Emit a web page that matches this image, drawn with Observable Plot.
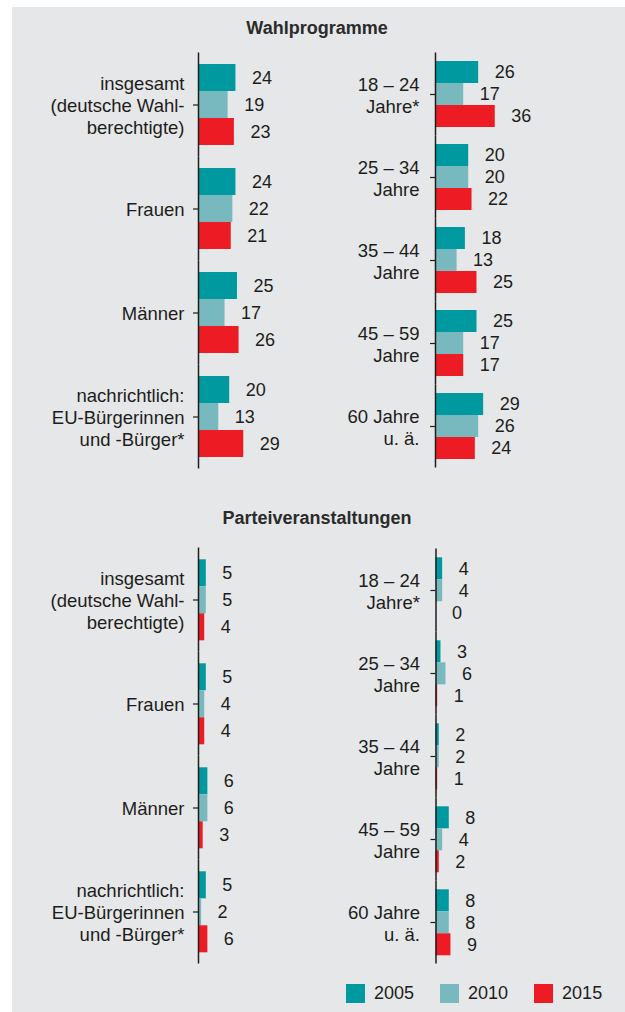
<!DOCTYPE html>
<html>
<head>
<meta charset="utf-8">
<script src="https://cdn.jsdelivr.net/npm/d3@7"></script>
<script src="https://cdn.jsdelivr.net/npm/@observablehq/plot@0.6"></script>
<style>
  html, body { margin: 0; padding: 0; background: #ffffff; }
  #page { position: relative; width: 625px; height: 1012px; overflow: hidden;
          font-family: "Liberation Sans", Arial, sans-serif; color: #1d1d1b; }
  #bg { position: absolute; left: 12px; top: 7px; right: 0; bottom: 0; background: #e6e7e8; }
  .title { position: absolute; left: 0; width: 634px; text-align: center; font-weight: bold;
           font-size: 18px; color: #2b2b2b; }
  .panel { position: absolute; }
  #legend { position: absolute; top: 983px; left: 346px; display: flex; align-items: center;
            font-size: 18px; color: #1d1d1b; }
  #legend .item { display: flex; align-items: center; }
  #legend .sw { width: 19px; height: 19px; margin-right: 9px; }
</style>
</head>
<body>
<div id="page">
  <div id="bg"></div>
  <div class="title" style="top:18px">Wahlprogramme</div>
  <div class="title" style="top:508px">Parteiveranstaltungen</div>
  <div id="legend"></div>
</div>
<script>
// ---- data ----
const years = ["2005", "2010", "2015"];
const yearColors = ["#00999f", "#78b9c0", "#ed1c24"];

const leftGroups = [
  "insgesamt\n(deutsche Wahl-\nberechtigte)",
  "Frauen",
  "Männer",
  "nachrichtlich:\nEU-Bürgerinnen\nund -Bürger*"
];
const rightGroups = [
  "18 – 24\nJahre*",
  "25 – 34\nJahre",
  "35 – 44\nJahre",
  "45 – 59\nJahre",
  "60 Jahre\nu. ä."
];

// values per group: [2005, 2010, 2015]
const wahlLeft = [[24, 19, 23], [24, 22, 21], [25, 17, 26], [20, 13, 29]];
const wahlRight = [[26, 17, 36], [20, 20, 22], [18, 13, 25], [25, 17, 17], [29, 26, 24]];
const parteiLeft = [[5, 5, 4], [5, 4, 4], [6, 6, 3], [5, 2, 6]];
const parteiRight = [[4, 4, 0], [3, 6, 1], [2, 2, 1], [8, 4, 2], [8, 8, 9]];

// ---- helpers ----
function rowsOf(groups, values) {
  const rows = [];
  groups.forEach((g, i) => years.forEach((y, j) => rows.push({group: g, year: y, value: values[i][j]})));
  return rows;
}

function panel({groups, values, left, top, width, height, marginLeft, marginRight, marginTop, marginBottom, ext, tickPadding}) {
  const data = rowsOf(groups, values);
  const chart = Plot.plot({
    width, height, marginLeft, marginRight, marginTop, marginBottom,
    style: {background: "transparent", fontSize: "18px", fontFamily: "Liberation Sans, Arial, sans-serif",
            color: "#1d1d1b", overflow: "visible"},
    x: {domain: [0, 40], axis: null},
    y: {domain: years, padding: 0, axis: null},
    fy: {domain: groups, padding: 0.2},
    color: {domain: years, range: yearColors},
    marks: [
      Plot.axisFy({anchor: "left", label: null, tickSize: 5, tickPadding, lineHeight: 1.2,
                   fontSize: 18.5, fill: "#1d1d1b", stroke: "#1d1d1b", strokeWidth: 1.2}),
      Plot.barX(data, {x: "value", y: "year", fy: "group", fill: "year"}),
      Plot.text(data, {x: "value", y: "year", fy: "group", text: d => String(d.value),
                       textAnchor: "start", dx: 16, fill: "#1d1d1b"}),
      Plot.ruleX([0], {stroke: "#1d1d1b", strokeWidth: 1.5, insetTop: -ext, insetBottom: -ext})
    ]
  });
  chart.classList.add("panel");
  chart.style.left = left + "px";
  chart.style.top = top + "px";
  document.getElementById("page").appendChild(chart);
}

panel({groups: leftGroups, values: wahlLeft, left: 0, top: 40, width: 320, height: 440,
       marginLeft: 198, marginRight: 59.6, marginTop: 22, marginBottom: 21.3, ext: 10.5, tickPadding: 9});
panel({groups: rightGroups, values: wahlRight, left: 320, top: 40, width: 305, height: 440,
       marginLeft: 115, marginRight: 123.6, marginTop: 20, marginBottom: 20, ext: 8.5, tickPadding: 11});
panel({groups: leftGroups, values: parteiLeft, left: 0, top: 535, width: 320, height: 440,
       marginLeft: 198, marginRight: 59.6, marginTop: 22.7, marginBottom: 21, ext: 10.5, tickPadding: 9});
panel({groups: rightGroups, values: parteiRight, left: 320, top: 535, width: 305, height: 440,
       marginLeft: 115.5, marginRight: 123.1, marginTop: 20.7, marginBottom: 19.3, ext: 8.5, tickPadding: 11});

// ---- legend ----
const legend = document.getElementById("legend");
years.forEach((y, i) => {
  const item = document.createElement("div");
  item.className = "item";
  item.style.marginRight = i < years.length - 1 ? "26px" : "0";
  const sw = document.createElement("div");
  sw.className = "sw";
  sw.style.background = yearColors[i];
  const t = document.createElement("span");
  t.textContent = y;
  item.appendChild(sw);
  item.appendChild(t);
  legend.appendChild(item);
});
</script>
</body>
</html>
